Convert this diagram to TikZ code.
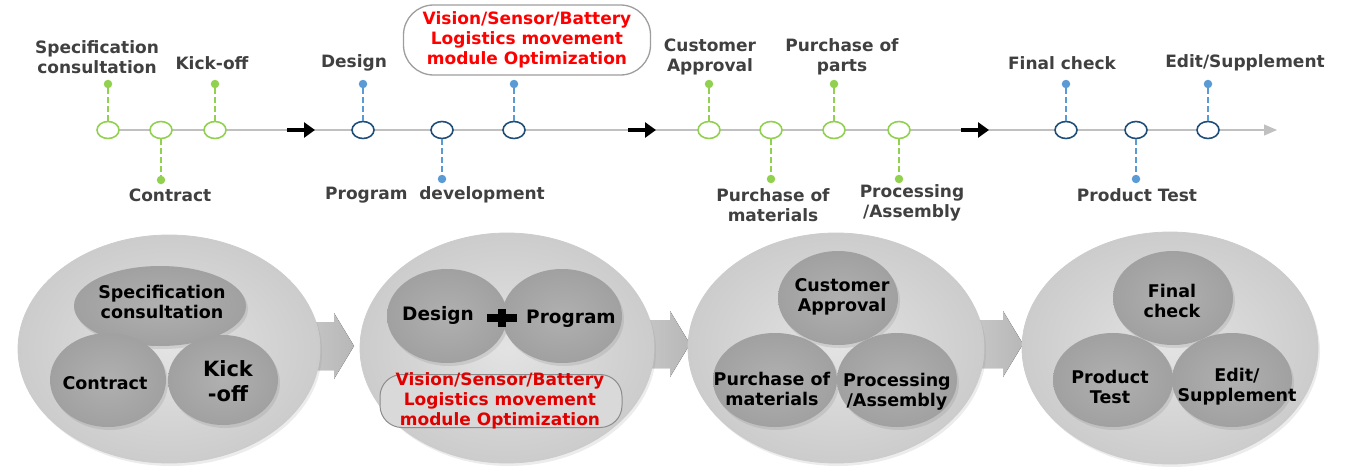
\documentclass[tikz,border=0pt]{standalone}
\usepackage{fontspec}
\setmainfont{DejaVu Sans}
\usetikzlibrary{shapes.geometric,arrows.meta,shadows}

\definecolor{grn}{HTML}{92D050}
\definecolor{blu}{HTML}{5B9BD5}
\definecolor{navy}{HTML}{1F4E79}
\definecolor{lblgray}{HTML}{404040}
\definecolor{rail}{HTML}{C0C0C0}
\definecolor{hot}{HTML}{FF0000}
\definecolor{hotdark}{HTML}{E00000}

\tikzset{
  ms/.style={ellipse, line width=1.6pt, fill=white, minimum width=22pt, minimum height=17pt, inner sep=0pt},
  msg/.style={ms, draw=grn},
  msb/.style={ms, draw=navy},
  pin/.style={circle, inner sep=0pt, minimum size=8.5pt},
  ping/.style={pin, fill=grn},
  pinb/.style={pin, fill=blu},
  stem/.style={line width=2.4pt, dash pattern=on 6pt off 3pt},
  stemg/.style={stem, draw=grn},
  stemb/.style={stem, draw=blu},
  lbl/.style={font=\bfseries\fontsize{17}{20.5}\selectfont, text=lblgray, align=center, inner sep=0pt},
  blbl/.style={font=\bfseries\fontsize{17.5}{20}\selectfont, text=black, align=center, inner sep=0pt},
  redlbl/.style={font=\bfseries\fontsize{17}{20}\selectfont, align=center, inner sep=0pt},
  go/.style={line width=4.5pt, -{Triangle[length=11pt,width=15pt]}},
  bigdisc/.style={ellipse, inner sep=0pt, draw=black!20, line width=0.8pt,
    inner color=black!11, outer color=black!20,
    drop shadow={opacity=0.15, shadow xshift=2pt, shadow yshift=-3pt}},
  smalldisc/.style={ellipse, inner sep=0pt, minimum width=120pt, minimum height=94pt,
    inner color=black!31, outer color=black!37,
    drop shadow={opacity=0.2, shadow xshift=2pt, shadow yshift=-3pt}},
  flow/.style={left color=black!16, right color=black!28, draw=none},
}

\begin{document}
\begin{tikzpicture}[x=1pt,y=-1pt]
\useasboundingbox (0,0) rectangle (1352,471);

% ---------------- timeline ----------------
\coordinate (r0) at (97,130);
\coordinate (r1) at (1277,130);
\draw[rail, line width=1.2pt, -{Triangle[length=13pt,width=11pt]}] (r0) -- (r1);

% phase arrows on the rail
\coordinate (a1s) at (287,130); \coordinate (a1e) at (315,130);
\coordinate (a2s) at (628,130); \coordinate (a2e) at (656,130);
\coordinate (a3s) at (961,130); \coordinate (a3e) at (989,130);
\draw[go] (a1s) -- (a1e);
\draw[go] (a2s) -- (a2e);
\draw[go] (a3s) -- (a3e);

% milestones
\node[msg] (m1)  at (108,130) {};
\node[msg] (m2)  at (161,130) {};
\node[msg] (m3)  at (215,130) {};
\node[msb] (m4)  at (363,130) {};
\node[msb] (m5)  at (442,130) {};
\node[msb] (m6)  at (514,130) {};
\node[msg] (m7)  at (709,130) {};
\node[msg] (m8)  at (771,130) {};
\node[msg] (m9)  at (834,130) {};
\node[msg] (m10) at (899,130) {};
\node[msb] (m11) at (1066,130) {};
\node[msb] (m12) at (1136,130) {};
\node[msb] (m13) at (1208,130) {};

% pins
\node[ping] (p1)  at (108,84) {};
\node[ping] (p2)  at (161,180) {};
\node[ping] (p3)  at (215,84) {};
\node[pinb] (p4)  at (363,84) {};
\node[pinb] (p5)  at (442,179) {};
\node[pinb] (p6)  at (514,84) {};
\node[ping] (p7)  at (709,84) {};
\node[ping] (p8)  at (771,179) {};
\node[ping] (p9)  at (834,84) {};
\node[ping] (p10) at (899,179) {};
\node[pinb] (p11) at (1066,84) {};
\node[pinb] (p12) at (1136,179) {};
\node[pinb] (p13) at (1208,84) {};

\draw[stemg] (m1.north)  -- (p1.center);
\draw[stemg] (m2.south)  -- (p2.center);
\draw[stemg] (m3.north)  -- (p3.center);
\draw[stemb] (m4.north)  -- (p4.center);
\draw[stemb] (m5.south)  -- (p5.center);
\draw[stemb] (m6.north)  -- (p6.center);
\draw[stemg] (m7.north)  -- (p7.center);
\draw[stemg] (m8.south)  -- (p8.center);
\draw[stemg] (m9.north)  -- (p9.center);
\draw[stemg] (m10.south) -- (p10.center);
\draw[stemb] (m11.north) -- (p11.center);
\draw[stemb] (m12.south) -- (p12.center);
\draw[stemb] (m13.north) -- (p13.center);

% milestone labels
\node[lbl] (t1)  at (97,57)   {Specification\\consultation};
\node[lbl] (t2)  at (170,195) {Contract};
\node[lbl] (t3)  at (212,63)  {Kick-off};
\node[lbl] (t4)  at (354,63)  {Design};
\node[lbl] (t5)  at (435,195) {Program\ \ development};
\node[redlbl, text=hot, draw=black!38, line width=1.3pt, fill=white, rounded corners=30pt,
      minimum width=247pt, minimum height=70pt] (t6) at (527,40)
      {Vision/Sensor/Battery\\Logistics movement\\module Optimization};
\node[lbl] (t7)  at (710,57)  {Customer\\Approval};
\node[lbl] (t8)  at (773,205) {Purchase of\\materials};
\node[lbl] (t9)  at (842,57)  {Purchase of\\parts};
\node[lbl] (t10) at (912,203) {Processing\\/Assembly};
\node[lbl] (t11) at (1062,63) {Final check};
\node[lbl] (t12) at (1137,195) {Product Test};
\node[lbl] (t13) at (1245,63) {Edit/Supplement};

% ---------------- phase discs ----------------
% flow arrows between the discs
\fill[flow] (250,322) -- (334,322) -- (334,313) -- (354,346) -- (334,379) -- (334,370) -- (250,370) -- cycle;
\fill[flow] (590,320) -- (670,320) -- (670,311) -- (690,344) -- (670,377) -- (670,368) -- (590,368) -- cycle;
\fill[flow] (925,320) -- (1003,320) -- (1003,311) -- (1023,344) -- (1003,377) -- (1003,368) -- (925,368) -- cycle;

\node[bigdisc, minimum width=302pt, minimum height=228pt] (d1) at (169,349) {};
\node[bigdisc, minimum width=294pt, minimum height=230pt] (d2) at (507,348) {};
\node[bigdisc, minimum width=296pt, minimum height=230pt] (d3) at (836,348) {};
\node[bigdisc, minimum width=296pt, minimum height=232pt] (d4) at (1170,348) {};

% phase 1
\node[smalldisc, minimum width=172pt, minimum height=80pt] (s1) at (160,306) {};
\node[smalldisc, minimum width=116pt, minimum height=94pt] (s2) at (108,380) {};
\node[smalldisc, minimum width=110pt, minimum height=90pt] (s3) at (223,380) {};
\node[blbl] (u1) at (162,302) {Specification\\consultation};
\node[blbl] (u2) at (105,383) {Contract};
\node[blbl, font=\bfseries\fontsize{21}{25}\selectfont] (u3) at (228,381) {Kick\\-off};

% phase 2
\node[smalldisc] (s4) at (447,316) {};
\node[smalldisc] (s5) at (562,316) {};
\node[blbl, font=\bfseries\fontsize{18.5}{22}\selectfont] (u4) at (438,315) {Design};
\node[blbl, font=\bfseries\fontsize{18.5}{22}\selectfont] (u5) at (571,319) {Program};
\fill[black] (487,314) rectangle (517,322);
\fill[black] (498,309) rectangle (506,327);
\node[draw=black!45, line width=1pt, fill=black!15, rounded corners=22pt,
      minimum width=242pt, minimum height=53pt, inner sep=0pt] (s6) at (501,401) {};
\node[redlbl, text=hotdark] (u6) at (500,401)
      {Vision/Sensor/Battery\\Logistics movement\\module Optimization};

% phase 3
\node[smalldisc] (s7) at (838,298) {};
\node[smalldisc, minimum width=124pt] (s8) at (775,380) {};
\node[smalldisc] (s9) at (897,380) {};
\node[blbl] (u7) at (842,297) {Customer\\Approval};
\node[blbl] (u8) at (772,389) {Purchase of\\materials};
\node[blbl] (u9) at (897,392) {Processing\\/Assembly};

% phase 4
\node[smalldisc] (s10) at (1173,298) {};
\node[smalldisc] (s11) at (1113,380) {};
\node[smalldisc] (s12) at (1232,380) {};
\node[blbl] (u10) at (1172,301) {Final\\check};
\node[blbl] (u11) at (1110,387) {Product\\Test};
\node[blbl] (u12) at (1237,387) {Edit/\\Supplement};
\end{tikzpicture}
\end{document}
